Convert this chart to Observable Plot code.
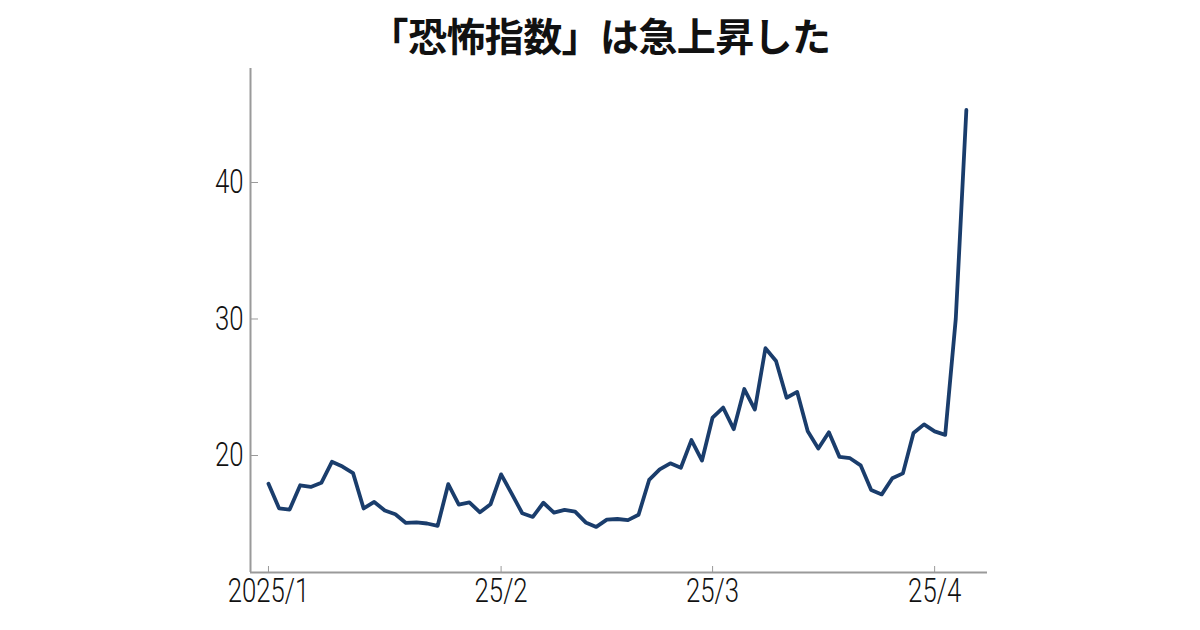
<!DOCTYPE html>
<html>
<head>
<meta charset="utf-8">
<script src="https://cdn.jsdelivr.net/npm/d3@7"></script>
<script src="https://cdn.jsdelivr.net/npm/@observablehq/plot@0.6"></script>
<style>
  html, body { margin: 0; padding: 0; background: #fff; }
  #title {
    height: 62px; line-height: 68px; text-align: center;
    font-family: "Noto Sans CJK JP", sans-serif; font-weight: 700;
    font-size: 39px; color: #111; letter-spacing: -0.6px;
  }
</style>
</head>
<body>
<div id="title">「恐怖指数」は急上昇した</div>
<div id="chart"></div>
<script>
// Weekday dates (holidays included, as in the source chart)
const dates = [
  "2025-01-02","2025-01-03","2025-01-06","2025-01-07","2025-01-08","2025-01-09","2025-01-10",
  "2025-01-13","2025-01-14","2025-01-15","2025-01-16","2025-01-17",
  "2025-01-20","2025-01-21","2025-01-22","2025-01-23","2025-01-24",
  "2025-01-27","2025-01-28","2025-01-29","2025-01-30","2025-01-31",
  "2025-02-03","2025-02-04","2025-02-05","2025-02-06","2025-02-07",
  "2025-02-10","2025-02-11","2025-02-12","2025-02-13","2025-02-14",
  "2025-02-17","2025-02-18","2025-02-19","2025-02-20","2025-02-21",
  "2025-02-24","2025-02-25","2025-02-26","2025-02-27","2025-02-28",
  "2025-03-03","2025-03-04","2025-03-05","2025-03-06","2025-03-07",
  "2025-03-10","2025-03-11","2025-03-12","2025-03-13","2025-03-14",
  "2025-03-17","2025-03-18","2025-03-19","2025-03-20","2025-03-21",
  "2025-03-24","2025-03-25","2025-03-26","2025-03-27","2025-03-28",
  "2025-03-31","2025-04-01","2025-04-02","2025-04-03","2025-04-04"
];
const vix = [
  17.93,16.13,16.04,17.82,17.70,18.00,19.54,
  19.19,18.71,16.12,16.60,15.97,
  15.70,15.06,15.10,15.02,14.85,
  17.90,16.41,16.56,15.84,16.43,
  18.62,17.21,15.77,15.50,16.54,
  15.81,16.02,15.89,15.10,14.77,
  15.30,15.35,15.27,15.66,18.21,
  18.98,19.43,19.10,21.13,19.63,
  22.78,23.51,21.93,24.87,23.37,
  27.86,26.92,24.23,24.66,21.77,
  20.51,21.70,19.90,19.80,19.28,
  17.48,17.15,18.33,18.69,21.65,
  22.28,21.77,21.51,30.02,45.31
];
const tickDates = ["2025-01-02","2025-02-03","2025-03-03","2025-04-01"];
const tickLabels = ["2025/1","25/2","25/3","25/4"];
const yTicks = [20, 30, 40];

const data = dates.map((d, i) => ({i, date: d, value: vix[i]}));
const xTickIdx = tickDates.map(d => dates.indexOf(d));
const xDomain = [-1.7, 68];
const yDomain = [11.43, 48.35];
const axisColor = "#9a9a9a";
const font = "Roboto, 'DejaVu Sans', sans-serif";

const chart = Plot.plot({
  width: 1200,
  height: 568,
  marginLeft: 250,
  marginRight: 213,
  marginTop: 6,
  marginBottom: 58,
  style: {fontFamily: font, background: "#fff", overflow: "visible"},
  x: {type: "linear", domain: xDomain},
  y: {domain: yDomain},
  marks: [
    Plot.ruleX([xDomain[0]], {stroke: axisColor, strokeWidth: 2}),
    Plot.ruleY([yDomain[0]], {stroke: axisColor, strokeWidth: 2}),
    Plot.axisY({
      ticks: yTicks, tickSize: -8, tickPadding: 15, stroke: axisColor,
      fontSize: 33, fontWeight: 300, fill: "#111", label: null
    }),
    Plot.axisX({
      ticks: xTickIdx, tickFormat: (d) => tickLabels[xTickIdx.indexOf(d)],
      tickSize: -6, tickPadding: 12, stroke: axisColor,
      fontSize: 33, fontWeight: 300, fill: "#111", label: null
    }),
    Plot.line(data, {x: "i", y: "value", stroke: "#1a3d6c", strokeWidth: 3.8,
      strokeLinejoin: "round", strokeLinecap: "round"})
  ]
});
// condense tick labels horizontally to mimic the narrow face of the original
d3.select(chart).selectAll('g[aria-label$="tick label"] text').each(function () {
  const t = this.getAttribute("transform") || "";
  this.setAttribute("transform", t + " scale(0.78,1)");
});
document.getElementById("chart").appendChild(chart);
</script>
</body>
</html>
